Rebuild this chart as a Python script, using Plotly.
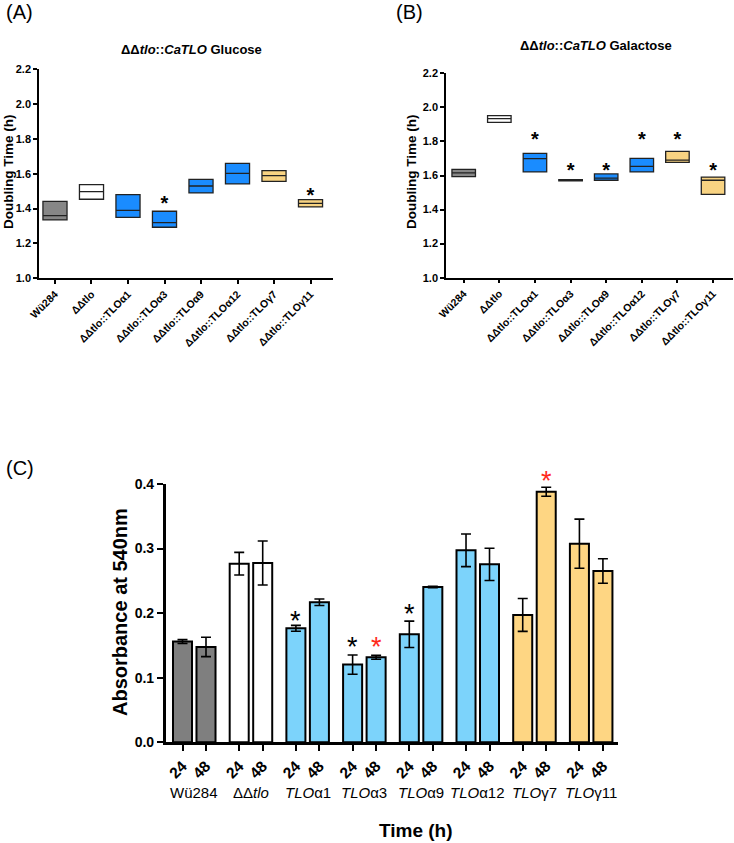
import plotly.graph_objects as go

# ---------------- data ----------------
strains = ["Wü284", "ΔΔtlo", "ΔΔtlo::TLOα1", "ΔΔtlo::TLOα3", "ΔΔtlo::TLOα9",
           "ΔΔtlo::TLOα12", "ΔΔtlo::TLOγ7", "ΔΔtlo::TLOγ11"]

# Panel A: glucose doubling time (h) – min / median / max
glc_low = [1.335, 1.454, 1.350, 1.293, 1.490, 1.542, 1.557, 1.410]
glc_med = [1.360, 1.498, 1.390, 1.320, 1.530, 1.603, 1.590, 1.430]
glc_high = [1.442, 1.538, 1.480, 1.385, 1.568, 1.660, 1.618, 1.452]
glc_star = [None, None, None, 1.42, None, None, None, 1.465]

# Panel B: galactose doubling time (h)
gal_low = [1.593, 1.912, 1.621, 1.569, 1.572, 1.621, 1.677, 1.489]
gal_med = [1.615, 1.934, 1.699, 1.572, 1.585, 1.654, 1.690, 1.572]
gal_high = [1.636, 1.951, 1.730, 1.576, 1.609, 1.700, 1.742, 1.591]
gal_star = [None, None, 1.80, 1.62, 1.62, 1.80, 1.80, 1.62]

# Panel C: absorbance at 540 nm
groups = ["Wü284", "ΔΔ<i>tlo</i>", "<i>TLO</i>α1", "<i>TLO</i>α3", "<i>TLO</i>α9",
          "<i>TLO</i>α12", "<i>TLO</i>γ7", "<i>TLO</i>γ11"]
times = ["24", "48"]
abs_24 = [0.156, 0.2766, 0.1765, 0.1203, 0.1672, 0.2973, 0.1972, 0.3076]
abs_48 = [0.1476, 0.2777, 0.2168, 0.1316, 0.2405, 0.2756, 0.388, 0.2653]
err_24 = [0.003, 0.0175, 0.0046, 0.015, 0.0205, 0.0253, 0.0255, 0.038]
err_48 = [0.015, 0.034, 0.005, 0.003, 0.001, 0.025, 0.007, 0.019]
star_24 = [None, None, 0.188, 0.147, 0.198, None, None, None]
star_48 = [None, None, None, 0.147, None, None, 0.405, None]
star_48_color = ["black", "black", "black", "#ff2a1a", "black", "black", "#ff2a1a", "black"]
abs_range = [0.0, 0.4]

# ---------------- styles ----------------
box_colors = ["#878787", "#ffffff", "#1a8cff", "#1a8cff", "#1a8cff", "#1a8cff", "#f8d382", "#f8d382"]
bar_colors = ["#7f7f7f", "#ffffff", "#7cd3fb", "#7cd3fb", "#7cd3fb", "#7cd3fb", "#fed683", "#fed683"]
FONT = "Liberation Sans, Arial, sans-serif"
W, H = 734, 843

fig = go.Figure()


def add_box_panel(xref, yref, low, med, high, stars):
    for i, name in enumerate(strains):
        fig.add_trace(go.Box(
            x=[i], q1=[low[i]], median=[med[i]], q3=[high[i]],
            lowerfence=[low[i]], upperfence=[high[i]],
            width=0.66, whiskerwidth=0,
            fillcolor=box_colors[i], line=dict(color="#222222", width=1.3),
            xaxis=xref, yaxis=yref, showlegend=False, boxpoints=False,
        ))
    sx = [i for i, s in enumerate(stars) if s is not None]
    sy = [s for s in stars if s is not None]
    fig.add_trace(go.Scatter(
        x=sx, y=sy, mode="text", text=["*"] * len(sx), cliponaxis=False,
        textfont=dict(family=FONT, size=20, color="black", weight="bold"),
        xaxis=xref, yaxis=yref, showlegend=False, hoverinfo="skip",
    ))


add_box_panel("x", "y", glc_low, glc_med, glc_high, glc_star)
add_box_panel("x2", "y2", gal_low, gal_med, gal_high, gal_star)

# Panel C bars
GAP = 2.413
pos24 = [g * GAP for g in range(len(groups))]
pos48 = [g * GAP + 1 for g in range(len(groups))]
fig.add_trace(go.Bar(
    x=pos24, y=abs_24, width=0.81,
    marker=dict(color=bar_colors, line=dict(color="black", width=2)),
    error_y=dict(type="data", array=err_24, color="black", thickness=1.6, width=5),
    xaxis="x3", yaxis="y3", showlegend=False,
))
fig.add_trace(go.Bar(
    x=pos48, y=abs_48, width=0.81,
    marker=dict(color=bar_colors, line=dict(color="black", width=2)),
    error_y=dict(type="data", array=err_48, color="black", thickness=1.6, width=5),
    xaxis="x3", yaxis="y3", showlegend=False,
))

# ---------------- axes ----------------
def px_x(a, b):
    return [a / W, b / W]


def px_y(top, bottom):
    return [1 - bottom / H, 1 - top / H]


common_y = dict(showline=True, linecolor="black", linewidth=1.5, ticks="outside",
                ticklen=4, tickwidth=1.5, tickcolor="black", showgrid=False, zeroline=False,
                automargin=False,
                tickfont=dict(family=FONT, size=11, color="black", weight="bold"))
common_x = dict(showline=True, linecolor="black", linewidth=1.5, ticks="outside",
                ticklen=4, tickwidth=1.5, tickcolor="black", showgrid=False, zeroline=False,
                automargin=False,
                tickangle=-45, tickfont=dict(family=FONT, size=10.5, color="black", weight="bold"),
                tickmode="array", tickvals=list(range(len(strains))), ticktext=strains)

fig.update_layout(
    template="none",
    width=W, height=H, margin=dict(l=0, r=0, t=0, b=0),
    paper_bgcolor="white", plot_bgcolor="white", boxmode="overlay", barmode="overlay",
    xaxis=dict(domain=px_x(39, 333), range=[-0.438, 7.616], anchor="y", **common_x),
    yaxis=dict(domain=px_y(69.3, 278.3), range=[1.0, 2.2], dtick=0.2, tickformat=".1f",
               anchor="x", **common_y),
    xaxis2=dict(domain=px_x(446, 733), range=[-0.497, 7.56], anchor="y2", **common_x),
    yaxis2=dict(domain=px_y(73.3, 277.7), range=[1.0, 2.2], dtick=0.2, tickformat=".1f",
                anchor="x2", **common_y),
    xaxis3=dict(domain=px_x(165.7, 617.7), range=[-0.715, 18.52], anchor="y3",
                showline=True, linecolor="black", linewidth=2.5, ticks="outside",
                ticklen=6, tickwidth=2, tickcolor="black", showgrid=False, zeroline=False,
                automargin=False,
                tickmode="array", tickvals=pos24 + pos48,
                ticktext=[times[0]] * len(pos24) + [times[1]] * len(pos48),
                tickangle=-45, tickfont=dict(family=FONT, size=15.5, color="black", weight="bold")),
    yaxis3=dict(domain=px_y(484, 742.3), range=abs_range, dtick=0.1, tickformat=".1f",
                anchor="x3", showline=True, linecolor="black", linewidth=2.5, ticks="outside",
                ticklen=6, tickwidth=2, tickcolor="black", showgrid=False, zeroline=False,
                automargin=False,
                tickfont=dict(family=FONT, size=14, color="black", weight="bold")),
)


def dom(v):
    return (v - abs_range[0]) / (abs_range[1] - abs_range[0])


ann = []
# panel C significance stars (domain-referenced annotations so they are never hidden)
for i, s in enumerate(star_24):
    if s is not None:
        ann.append(dict(text="*", x=pos24[i], y=dom(s), xref="x3", yref="y3 domain",
                        showarrow=False, xanchor="center", yanchor="middle",
                        font=dict(family=FONT, size=27, color="black")))
for i, s in enumerate(star_48):
    if s is not None:
        ann.append(dict(text="*", x=pos48[i], y=dom(s), xref="x3", yref="y3 domain",
                        showarrow=False, xanchor="center", yanchor="middle",
                        font=dict(family=FONT, size=27, color=star_48_color[i])))
# panel letters
for txt, x, y in [("(A)", 4, 12), ("(B)", 394, 12), ("(C)", 4, 468)]:
    ann.append(dict(text=txt, x=x / W, y=1 - y / H, xref="paper", yref="paper",
                    xanchor="left", yanchor="middle", showarrow=False,
                    font=dict(family=FONT, size=20, color="black")))
# panel titles
ann.append(dict(text="<b>ΔΔ<i>tlo</i>::<i>CaTLO</i> Glucose</b>", x=191 / W, y=1 - 49 / H,
                xref="paper", yref="paper", showarrow=False, xanchor="center", yanchor="middle",
                font=dict(family=FONT, size=13, color="black")))
ann.append(dict(text="<b>ΔΔ<i>tlo</i>::<i>CaTLO</i> Galactose</b>", x=596 / W, y=1 - 45 / H,
                xref="paper", yref="paper", showarrow=False, xanchor="center", yanchor="middle",
                font=dict(family=FONT, size=13, color="black")))
# y titles A/B
for x in (8, 411):
    ann.append(dict(text="<b>Doubling Time (h)</b>", x=x / W, y=1 - 172 / H,
                    xref="paper", yref="paper", showarrow=False, textangle=-90,
                    xanchor="center", yanchor="middle",
                    font=dict(family=FONT, size=13.5, color="black")))
# panel C titles
ann.append(dict(text="<b>Absorbance at 540nm</b>", x=120 / W, y=1 - 612 / H,
                xref="paper", yref="paper", showarrow=False, textangle=-90,
                xanchor="center", yanchor="middle",
                font=dict(family=FONT, size=20, color="black")))
ann.append(dict(text="<b>Time (h)</b>", x=416 / W, y=1 - 830 / H,
                xref="paper", yref="paper", showarrow=False, xanchor="center", yanchor="middle",
                font=dict(family=FONT, size=19, color="black")))
# group labels
for g, name in enumerate(groups):
    ann.append(dict(text=name, x=g * GAP + 0.5, y=1 - 792 / H, xref="x3", yref="paper",
                    showarrow=False, xanchor="center", yanchor="middle",
                    font=dict(family=FONT, size=15, color="black")))
fig.update_layout(annotations=ann)

fig.write_html("out.html", config={"displayModeBar": False},
               post_script="document.body.style.margin='0';")
